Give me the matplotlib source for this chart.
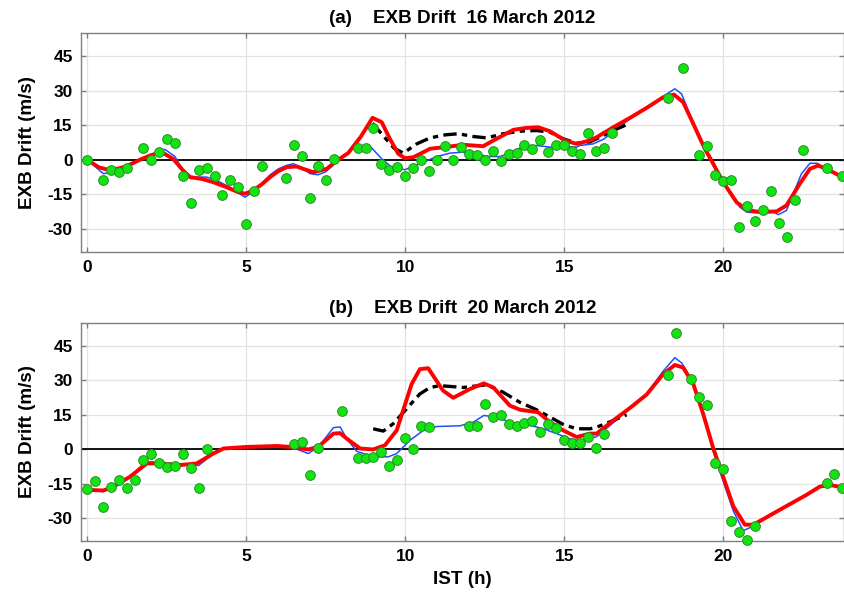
import matplotlib
matplotlib.use("Agg")
import matplotlib.pyplot as plt

plt.rcParams['font.family'] = ['Liberation Sans', 'DejaVu Sans']
plt.rcParams['font.weight'] = 'bold'
plt.rcParams['axes.unicode_minus'] = False

# ---------------- Panel (a): 16 March 2012 ----------------
obs_a_t = [0, 0.5, 0.75, 1.0, 1.25, 1.75, 2.0, 2.25, 2.5, 2.75, 3.0, 3.25, 3.5, 3.75, 4.0,
           4.25, 4.5, 4.75, 5.0, 5.25, 5.5, 6.25, 6.5, 6.75, 7.0, 7.25, 7.5, 7.75, 8.5, 8.75,
           9.0, 9.25, 9.5, 9.75, 10.0, 10.25, 10.5, 10.75, 11.0, 11.25, 11.5, 11.75, 12.0, 12.25,
           12.5, 12.75, 13.0, 13.25, 13.5, 13.75, 14.0, 14.25, 14.5, 14.75, 15.0, 15.25, 15.5,
           15.75, 16.0, 16.25, 16.5, 18.25, 18.75, 19.25, 19.5, 19.75, 20.0, 20.25, 20.5, 20.75,
           21.0, 21.25, 21.5, 21.75, 22.0, 22.25, 22.5, 23.25, 23.75]
obs_a_v = [0, -8.7, -4.3, -5.1, -3.6, 5.2, 0, 3.2, 9.2, 7.4, -6.9, -18.7, -4.3, -3.5, -7.1,
           -15.2, -8.7, -12.0, -27.7, -13.6, -2.8, -7.7, 6.6, 1.7, -16.6, -2.9, -8.8, 0.3, 5.2, 5.2,
           13.9, -1.7, -4.3, -3.2, -6.9, -3.5, 0, -4.9, 0, 6.1, 0, 5.5, 2.3, 2.0,
           -0.3, 4.0, -0.6, 2.6, 2.9, 6.6, 4.5, 8.7, 3.5, 6.3, 6.6, 4.0, 2.3,
           11.5, 3.7, 5.2, 11.8, 26.9, 39.7, 2.0, 5.8, -6.4, -9.0, -8.7, -29.2, -20.2,
           -26.6, -21.7, -13.4, -27.3, -33.5, -17.6, 4.2, -3.5, -7.2]

blue_a_t = [0, 0.5, 0.77, 1.0, 1.5, 2.0, 2.25, 2.44, 2.75, 3.0, 3.25, 3.5, 3.75, 4.0, 4.5,
            4.75, 4.96, 5.25, 5.5, 5.75, 6.0, 6.25, 6.48, 6.75, 7.0, 7.25, 7.5, 7.95, 8.3, 8.68,
            8.94, 9.26, 9.57, 9.99, 10.46, 10.99, 11.41, 11.82, 12.25, 12.66, 12.98, 13.29, 13.71,
            14.13, 14.55, 14.97, 15.39, 15.49, 15.91, 16.25, 16.65, 17.07, 17.59, 18.11, 18.48,
            18.69, 19.0, 19.42, 19.63, 20.0, 20.52, 20.74, 21.0, 21.5, 21.73, 21.99, 22.46, 22.73,
            22.96, 23.3, 23.75]
blue_a_v = [0, -6.0, -5.6, -5.0, -1.0, 2.0, 4.0, 4.5, 1.5, -4.5, -8.2, -7.5, -7.5, -8.5, -12.0,
            -14.5, -16.2, -13.6, -10.0, -6.5, -4.0, -2.5, -1.7, -3.5, -6.0, -6.5, -5.2, 0.4, 4.5, 6.2,
            5.2, 0.4, -3.2, -4.3, -1.7, 1.4, 2.9, 3.3, 2.3, 1.4, 1.4, 2.9, 5.8,
            6.2, 5.5, 5.8, 5.5, 6.2, 6.9, 9.0, 13.4, 17.8, 22.3, 27.5, 30.8,
            28.6, 18.0, 5.0, -0.5, -10.0, -20.5, -22.7, -23.0, -22.0, -23.8, -22.0, -6.1, -1.5,
            -1.5, -4.8, -7.2]

red_a_t = [0, 0.35, 0.72, 1.2, 1.7, 2.0, 2.34, 2.7, 3.0, 3.23, 3.6, 3.96, 4.38, 4.7, 4.96,
           5.22, 5.5, 5.75, 6.0, 6.27, 6.58, 6.85, 7.11, 7.53, 7.84, 8.21, 8.6, 8.97, 9.26, 9.5,
           9.78, 9.99, 10.25, 10.5, 10.78, 11.25, 11.82, 12.45, 12.87, 13.4, 13.8, 14.18, 14.55,
           15.02, 15.39, 15.81, 16.02, 16.54, 17.07, 17.59, 18.11, 18.45, 18.74, 19.06, 19.42,
           19.63, 20.0, 20.42, 20.74, 21.15, 21.68, 21.99, 22.41, 22.73, 22.99, 23.3, 23.75]
red_a_v = [0, -3.2, -4.6, -3.0, 0.3, 2.0, 3.3, 0.4, -4.5, -7.5, -8.3, -9.7, -11.9, -13.8, -14.7,
           -13.3, -10.5, -7.5, -5.0, -3.2, -2.9, -4.2, -5.4, -3.9, -0.5, 3.0, 10.0, 18.2, 16.3, 9.5,
           2.6, 0.7, 1.1, 2.8, 4.8, 5.5, 6.5, 5.9, 9.1, 13.0, 13.8, 14.1, 12.4,
           8.4, 6.9, 8.4, 9.8, 14.1, 18.2, 22.5, 27.1, 28.3, 25.0, 15.6, 4.8,
           -0.3, -9.7, -18.4, -21.7, -22.7, -22.4, -19.8, -10.4, -3.9, -2.5, -4.3, -7.5]

black_a_t = [8.97, 9.3, 9.65, 9.94, 10.36, 10.78, 11.25, 11.67, 12.14, 12.56, 13.08, 13.61,
             14.13, 14.55, 14.97, 15.39, 15.81, 16.02, 16.54, 16.96]
black_a_v = [15.9, 10.5, 5.0, 2.9, 6.9, 9.5, 10.8, 11.3, 10.1, 9.5, 11.3, 12.4,
             12.7, 12.0, 9.1, 7.2, 7.8, 9.1, 12.7, 15.2]

# ---------------- Panel (b): 20 March 2012 ----------------
obs_b_t = [0, 0.25, 0.5, 0.75, 1.0, 1.25, 1.5, 1.75, 2.0, 2.25, 2.5, 2.75, 3.0, 3.25, 3.5,
           3.75, 6.5, 6.75, 7.0, 7.25, 8.0, 8.5, 8.75, 9.0, 9.25, 9.5, 9.75, 10.0, 10.25, 10.5,
           10.75, 12.0, 12.25, 12.5, 12.75, 13.0, 13.25, 13.5, 13.75, 14.0, 14.25, 14.5, 14.75,
           15.0, 15.25, 15.5, 15.75, 16.0, 16.25, 18.25, 18.5, 19.0, 19.25, 19.5, 19.75, 20.0,
           20.25, 20.5, 20.75, 21.0, 23.25, 23.5, 23.75]
obs_b_v = [-17.4, -14.0, -25.1, -16.6, -13.3, -16.7, -13.4, -4.6, -2.0, -6.2, -7.8, -7.5, -2.2,
           -8.1, -16.7, 0.3, 2.2, 3.3, -11.4, 0.6, 16.6, -4.0, -4.0, -3.6, -1.3, -7.3, -4.8, 5.0,
           0.1, 10.2, 9.6, 10.2, 10.2, 19.5, 14.0, 15.0, 11.1, 10.2, 11.4, 12.2, 7.3, 10.8, 9.2,
           4.2, 2.9, 2.9, 5.3, 0.7, 6.8, 32.4, 50.7, 30.6, 22.6, 19.3, -6.2, -8.6,
           -31.4, -35.9, -39.5, -33.3, -14.8, -10.7, -16.7]

blue_b_t = [0, 0.5, 0.8, 1.34, 1.76, 2.0, 2.29, 2.92, 3.5, 3.96, 4.28, 5.0, 6.0, 6.5, 6.95,
            7.3, 7.74, 7.95, 8.16, 8.47, 8.99, 9.47, 9.73, 10.15, 10.57, 10.99, 11.72, 12.14,
            12.47, 12.87, 13.29, 13.92, 14.34, 14.76, 15.18, 15.49, 15.81, 16.02, 16.54, 17.07,
            17.59, 18.11, 18.48, 18.7, 19.06, 19.37, 19.69, 20.0, 20.32, 20.63, 20.95, 21.78,
            22.62, 23.04, 23.36, 23.75]
blue_b_v = [-17.7, -18.5, -16.5, -12.0, -6.5, -5.5, -5.8, -6.5, -7.1, -2.0, 0.5, 1.0, 1.4, 0.5,
            -1.9, 1.5, 9.4, 9.7, 4.6, -0.9, -3.3, -3.3, -1.9, 3.9, 8.2, 9.9, 10.2, 11.8,
            14.7, 14.0, 11.8, 10.4, 8.9, 6.8, 4.5, 3.6, 4.6, 5.5, 11.5, 18.0,
            24.0, 34.0, 39.9, 37.5, 29.0, 15.0, -1.0, -14.0, -27.0, -35.5, -33.5, -26.4,
            -19.9, -16.0, -15.0, -16.6]

red_b_t = [0, 0.5, 0.8, 1.34, 1.87, 2.29, 2.92, 3.44, 3.96, 4.28, 5.01, 5.96, 6.37, 6.95, 7.26,
           7.74, 7.95, 8.16, 8.58, 8.99, 9.36, 9.73, 10.2, 10.46, 10.72, 11.19, 11.51, 12.03,
           12.47, 12.77, 13.29, 13.61, 14.18, 14.55, 14.97, 15.39, 15.81, 16.02, 16.54, 17.07,
           17.59, 18.11, 18.48, 18.74, 19.06, 19.37, 19.69, 20.0, 20.32, 20.68, 20.95, 21.78,
           22.62, 23.04, 23.36, 23.75]
red_b_v = [-17.7, -18.0, -16.5, -12.0, -6.2, -6.2, -6.9, -6.2, -1.9, 0.3, 1.0, 1.4, 1.0, -0.1,
           1.0, 6.8, 7.0, 4.6, 0.3, -0.1, 1.7, 8.2, 28.4, 34.9, 35.3, 25.5, 22.4, 26.2,
           28.7, 26.9, 19.0, 17.2, 16.1, 11.8, 8.2, 5.3, 6.8, 6.8, 12.5, 18.0,
           23.8, 32.7, 36.7, 35.6, 28.4, 15.4, 0.3, -12.0, -24.9, -32.9, -32.9, -26.4,
           -19.9, -16.3, -15.6, -16.6]

black_b_t = [8.99, 9.31, 9.62, 10.04, 10.46, 10.78, 11.09, 11.82, 12.56, 13.08, 13.61, 14.13,
             14.55, 14.97, 15.39, 15.81, 16.02, 16.54, 16.96]
black_b_v = [8.9, 7.9, 11.1, 17.6, 24.1, 26.9, 27.7, 26.9, 28.1, 24.8, 20.4, 17.2,
             14.0, 10.8, 8.9, 8.9, 9.6, 12.5, 15.0]

titles = ["(a)    EXB Drift  16 March 2012", "(b)    EXB Drift  20 March 2012"]
x_ticks = [0, 5, 10, 15, 20]
y_ticks = [-30, -15, 0, 15, 30, 45]

panels = [
    (obs_a_t, obs_a_v, blue_a_t, blue_a_v, red_a_t, red_a_v, black_a_t, black_a_v),
    (obs_b_t, obs_b_v, blue_b_t, blue_b_v, red_b_t, red_b_v, black_b_t, black_b_v),
]

W, H = 845, 594
fig = plt.figure(figsize=(W / 100, H / 100), dpi=100)
boxes = [(81, 33, 844, 252), (81, 323, 844, 541)]
spine_grey = '#7f7f7f'

for i, (box, data) in enumerate(zip(boxes, panels)):
    x0, y0, x1, y1 = box
    ax = fig.add_axes([x0 / W, 1 - y1 / H, (x1 - x0) / W, (y1 - y0) / H])
    ot, ov, bt, bv, rt, rv, kt, kv = data

    ax.axhline(0, color='black', lw=1.3, zorder=2)
    ax.plot(bt, bv, color='#1f4fff', lw=1.1, zorder=3)
    ax.plot(kt, kv, color='black', lw=2.4, dashes=(4, 1.6, 1.6, 1.6), zorder=4)
    ax.plot(rt, rv, color='#ff0000', lw=2.8, zorder=5)
    ax.plot(ot, ov, 'o', ms=7.0, mfc='#12e412', mec='#2a8c2a', mew=0.7,
            zorder=6, clip_on=False)

    ax.set_xlim(-0.2, 23.8)
    ax.set_ylim(-40, 55)
    ax.set_xticks(x_ticks)
    ax.set_yticks(y_ticks)
    ax.grid(True, color='#e3e3e3', lw=0.9, zorder=0)
    ax.set_axisbelow(True)
    for s in ax.spines.values():
        s.set_color(spine_grey)
        s.set_linewidth(1.0)
    ax.tick_params(direction='in', length=3.5, width=1.0, color=spine_grey,
                   top=True, right=True, labelsize=12.5, pad=6)
    for lab in ax.get_xticklabels() + ax.get_yticklabels():
        lab.set_fontweight('bold')
    ax.set_title(titles[i], fontsize=13.6, fontweight='bold', pad=7)
    ax.set_ylabel('EXB Drift (m/s)', fontsize=13.6, fontweight='bold', labelpad=8)
    if i == 1:
        ax.set_xlabel('IST (h)', fontsize=13.6, fontweight='bold', labelpad=5)

fig.savefig('out.png', dpi=100)
